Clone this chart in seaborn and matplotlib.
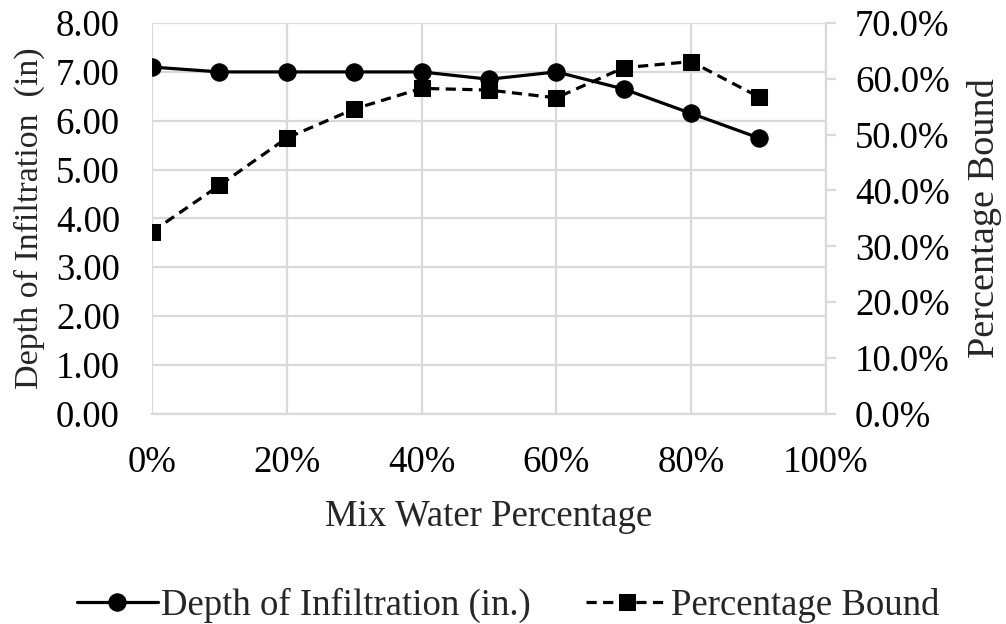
import pandas as pd
import matplotlib
matplotlib.use('Agg')
import matplotlib.pyplot as plt
import matplotlib.ticker as mtick
import seaborn as sns

# data
mix_water = [0.0, 0.1, 0.2, 0.3, 0.4, 0.5, 0.6, 0.7, 0.8, 0.9]
depth_in = [7.10, 7.00, 7.00, 7.00, 7.00, 6.85, 7.00, 6.65, 6.15, 5.65]
pct_bound = [0.326, 0.409, 0.494, 0.546, 0.583, 0.580, 0.566, 0.620, 0.631, 0.568]

df = pd.DataFrame({'Mix': mix_water, 'Depth': depth_in, 'Bound': pct_bound})

sns.set_style('white')
plt.rcParams['font.family'] = ['Liberation Serif', 'DejaVu Serif']
fs = 26.5

grid_col = '#d9d9d9'

fig, ax = plt.subplots(figsize=(10.06, 6.24), dpi=100)
fig.subplots_adjust(left=0.151, right=0.821, top=0.963, bottom=0.337)
ax2 = ax.twinx()

sns.lineplot(data=df, x='Mix', y='Depth', ax=ax, color='black', marker='o',
             markersize=12.5, linewidth=2.3, markeredgecolor='black',
             label='Depth of Infiltration (in.)', legend=False)
sns.lineplot(data=df, x='Mix', y='Bound', ax=ax2, color='black', marker='s',
             markersize=11.5, linewidth=2.3, markeredgecolor='black',
             label='Percentage Bound', legend=False)
ax2.lines[0].set_dashes((3.2, 2.0))

# left axis
ax.set_xlim(0, 1.0)
ax.set_ylim(0, 8)
ax.set_xticks([0, 0.2, 0.4, 0.6, 0.8, 1.0])
ax.set_yticks(range(0, 9))
ax.xaxis.set_major_formatter(mtick.PercentFormatter(1.0, decimals=0))
ax.yaxis.set_major_formatter(mtick.FormatStrFormatter('%.2f'))
ax.grid(True, color=grid_col, linewidth=1.6)
ax.tick_params(axis='both', length=0, labelsize=fs, colors='black')
ax.tick_params(axis='x', pad=23)
ax.tick_params(axis='y', pad=23)
for s in ['top', 'left', 'right']:
    ax.spines[s].set_visible(False)
ax.spines['bottom'].set_color(grid_col)
ax.spines['bottom'].set_linewidth(1.6)
ax.set_xlabel('Mix Water Percentage', fontsize=fs, labelpad=14)
ax.set_ylabel('Depth of Infiltration  (in)', fontsize=24.5, labelpad=8)

# right axis
ax2.set_ylim(0, 0.7)
ax2.set_yticks([i / 10 for i in range(8)])
ax2.yaxis.set_major_formatter(mtick.PercentFormatter(1.0, decimals=1))
ax2.grid(False)
for s in ['top', 'left', 'bottom']:
    ax2.spines[s].set_visible(False)
ax2.spines['right'].set_color(grid_col)
ax2.spines['right'].set_linewidth(1.6)
ax2.tick_params(axis='y', direction='out', length=7, width=1.6, color=grid_col,
                labelsize=fs, pad=14, labelcolor='black')
ax2.set_ylabel('Percentage Bound', fontsize=27.5, labelpad=12)

h1, l1 = ax.get_legend_handles_labels()
h2, l2 = ax2.get_legend_handles_labels()
fig.legend(h1 + h2, l1 + l2, loc='center', bbox_to_anchor=(0.505, 0.030), ncol=2,
           frameon=False, fontsize=fs, handlelength=2.2, columnspacing=1.5,
           handletextpad=0.1)

fig.savefig('out.png', dpi=100)
